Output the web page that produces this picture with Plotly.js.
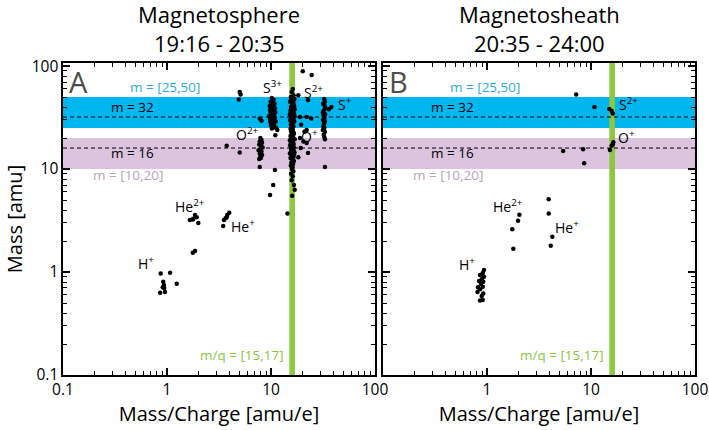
<!DOCTYPE html>
<html><head><meta charset="utf-8">
<script src="https://cdn.plot.ly/plotly-3.0.1.min.js"></script>
<style>html,body{margin:0;padding:0;background:#fff}#chart{width:709px;height:430px}</style>
</head><body><div id="chart"></div>
<script>
// ---------- Panel A: Magnetosphere 19:16 - 20:35 ----------
const aHplusMq   = [0.87,1.07,0.92,0.935,0.91,0.86,0.957,1.24,0.94];
const aHplusM    = [0.97,0.985,0.806,0.75,0.71,0.63,0.64,0.77,0.70];
const aHe2Mq     = [1.66,1.77,1.86,1.93,2.0,1.79,1.77,1.86];
const aHe2M      = [3.2,3.24,3.57,3.4,3.0,3.3,1.54,1.6];
const aHe1Mq     = [3.47,3.53,3.66,3.8,3.97,3.75];
const aHe1M      = [2.8,3.2,3.33,3.57,3.77,3.4];
const aO2Mq      = [7.9,8.1,7.8,8.2,7.7,8.0,8.3,7.9,7.6,8.1,7.8,8.2,7.9,8.0,7.7,3.75,5.0,7.8,5.0,5.1,4.9];
const aO2M       = [20,19.2,18.5,18,17.3,16.8,16.2,15.7,15.2,14.8,14.2,13.7,13.2,12.8,12.5,16.8,14.5,10.5,56,53,47.5];
const aS3Mq      = [10.2,10.6,9.9,10.4,10.8,10.1,9.7,10.5,10.9,10.2,9.8,10.6,10.3,11.0,9.9,10.4,10.7,10.1,9.6,10.5,10.9,10.2,9.8,10.6,10.3,11.1,9.9,10.4,10.7,10.0,10.5,10.2,7.8,8.1,11.2,11.5,11.0,9.8,10.5,10.9];
const aS3M       = [49,47,45,44,43,42,41,40,39,38.5,37.5,37,36,35.5,35,34,33.5,33,32.5,32,31.5,31,30.5,30,29.5,29,28.5,28,27,26.5,25.5,24.8,31,29.5,25,24,21.3,5.6,7.0,9.8];
const aColMq     = [16.2,15.8,16.5,15.5,16.8,16.0,15.3,16.4,15.9,16.7,15.6,16.1,16.9,15.4,16.3,15.7,16.6,15.2,16.0,16.8,15.5,16.2,15.9,16.5,15.3,16.7,15.8,16.1,15.5,16.4,15.9,16.2,15.6,16.6,16.0,15.4,16.3,15.8,16.9,15.2,16.1,15.7,16.5,15.3,16.0,16.7,15.5,16.2,15.9,16.4,15.6,16.8,15.2,16.1,15.8,16.5,15.4,16.0,16.6,15.7,16.3,15.5,16.1,15.9,16.4,15.6,16.2,15.8,16.6,16.0,16.9,14.4,16.3,15.7,16.0,15.4,16.5,15.6,16.3,15.9,16.1,15.5,16.6];
const aColM      = [60,56,52,50,48,46,45,44,42,41,40,39,38,37,36.5,35.5,35,34,33.5,33,32.5,32,31,30.5,30,29,28.5,27.5,27,26,25,24,23,22,21.5,21,20.5,20,19.5,19,18.5,18,17.5,17,16.5,16.2,16,15.8,15.5,15.2,15,14.6,14.2,14,13.6,13.2,12.8,12.5,12,11.6,11.2,10.8,10.4,10,9.5,9,8.5,7.8,7.0,5.5,6.3,3.7,43,38,29,24.5,22.5,47,40.5,34.5,19.8,17.8,13.9];
const aRightMq   = [20.2,24.6,19,22,24.4,22,19.5,21,18.3,22.7,19,22.7,22,19.3,18.3,20.5,32.5,33,31.8,32.8,33.5,32.2,31.5,33.2,32,32.7,31.6,33,32.3,31.9,32.6,31.5,32.9,32.1,32.5,38,36,33,33];
const aRightM    = [89,82,32,32,31,24,27,23,52,46.8,20,14.3,17.9,16,13,18.5,48,45,43,41,39,37,35.5,34,33,31.5,30,29,27.5,26,25,24,23,21.5,20.5,40,38,10.5,19.5];

// ---------- Panel B: Magnetosheath 20:35 - 24:00 ----------
const bHplusMq   = [0.935,0.91,0.857,0.935,0.89,0.84,0.92,0.875,0.82,0.91,0.857,0.81,0.92,0.89,0.91,0.857];
const bHplusM    = [1.045,0.98,0.935,0.90,0.85,0.82,0.805,0.765,0.71,0.72,0.68,0.64,0.62,0.585,0.535,0.53];
const bHeMq      = [2.05,1.99,1.75,1.79,3.92,3.92,4.25,4.1];
const bHeM       = [3.6,3.15,2.6,1.68,5.1,3.7,2.2,1.8];
const bHeavyMq   = [7.2,10.8,15,15.8,16.2,16.4,15.8,15.2,16.2,5.4,8.4,8.6];
const bHeavyM    = [53,40,38.3,36.6,34.7,18.2,16.8,15.3,17.4,15,15.6,11.4];

const FONT = 'Open Sans, Lato, sans-serif';
const dot = {color:'black', size:4.5};

function pts(x, y, xa, ya){
  return {type:'scatter', mode:'markers', x:x, y:y, xaxis:xa, yaxis:ya,
          marker:dot, hoverinfo:'skip', showlegend:false, cliponaxis:true};
}

const traces = [
  pts(aHplusMq,aHplusM,'x','y'), pts(aHe2Mq,aHe2M,'x','y'), pts(aHe1Mq,aHe1M,'x','y'),
  pts(aO2Mq,aO2M,'x','y'), pts(aS3Mq,aS3M,'x','y'), pts(aColMq,aColM,'x','y'),
  pts(aRightMq,aRightM,'x','y'),
  pts(bHplusMq,bHplusM,'x2','y2'), pts(bHeMq,bHeM,'x2','y2'), pts(bHeavyMq,bHeavyM,'x2','y2')
];

function bandShapes(xa, ya){
  const xd = xa + ' domain', yd = ya + ' domain';
  return [
    {type:'rect', layer:'below', xref:xd, yref:ya, x0:0, x1:1, y0:25, y1:50, fillcolor:'#00b6ef', line:{width:0}},
    {type:'rect', layer:'below', xref:xd, yref:ya, x0:0, x1:1, y0:10, y1:20, fillcolor:'#dcc4de', line:{width:0}},
    {type:'rect', layer:'below', xref:xa, yref:yd, x0:15, x1:17, y0:0, y1:1, fillcolor:'#8dc63f', line:{width:0}},
    {type:'line', layer:'below', xref:xd, yref:ya, x0:0, x1:1, y0:32, y1:32, line:{color:'black', width:1, dash:'4px,3px'}},
    {type:'line', layer:'below', xref:xd, yref:ya, x0:0, x1:1, y0:16, y1:16, line:{color:'black', width:1, dash:'4px,3px'}}
  ];
}

function txt(xa, ya, x, y, text, opts){
  return Object.assign({xref:xa, yref:ya, x:x, y:y, text:text, showarrow:false,
    font:{family:FONT, size:13.5, color:'black'}, xanchor:'center', yanchor:'middle'}, opts||{});
}

function panelNotes(xa, ya, letter, ions, mqx){
  const xd = xa + ' domain', yd = ya + ' domain';
  const notes = [
    txt(xd, yd, 0.012, 0.94, letter, {xanchor:'left', font:{family:FONT, size:29, color:'#4d4d4d'}}),
    txt(xa, ya, -0.02, 1.80, 'm = [25,50]', {font:{family:FONT, size:13.5, color:'#29aae1'}}),
    txt(xa, ya, -0.33, 1.605, 'm = 32'),
    txt(xa, ya, -0.33, 1.155, 'm = 16'),
    txt(xa, ya, -0.375, 0.942, 'm = [10,20]', {font:{family:FONT, size:13.5, color:'#b8a5bb'}}),
    txt(xa, ya, mqx, -0.806, 'm/q = [15,17]', {xanchor:'right', font:{family:FONT, size:13.5, color:'#8dc63f'}})
  ];
  ions.forEach(function(d){ notes.push(txt(xa, ya, d[0], d[1], d[2], {font:{family:FONT, size:14, color:'black'}})); });
  return notes;
}

const ionsA = [
  [1.019, 1.80, 'S<sup>3+</sup>'], [1.404, 1.75, 'S<sup>2+</sup>'], [1.712, 1.63, 'S<sup>+</sup>'],
  [0.769, 1.34, 'O<sup>2+</sup>'], [1.37, 1.32, 'O<sup>+</sup>'],
  [0.221, 0.64, 'He<sup>2+</sup>'], [0.731, 0.445, 'He<sup>+</sup>'], [-0.202, 0.085, 'H<sup>+</sup>']
];
const ionsB = [
  [1.356, 1.63, 'S<sup>2+</sup>'], [1.346, 1.31, 'O<sup>+</sup>'],
  [0.202, 0.64, 'He<sup>2+</sup>'], [0.769, 0.435, 'He<sup>+</sup>'], [-0.192, 0.075, 'H<sup>+</sup>']
];

const minorVals = [0.2,0.3,0.4,0.5,0.6,0.7,0.8,0.9,2,3,4,5,6,7,8,9,20,30,40,50,60,70,80,90];
function axis(domain, vals, texts, anchor, extra){
  return Object.assign({
    type:'log', domain:domain, anchor:anchor, showgrid:false, zeroline:false,
    showline:true, linecolor:'black', linewidth:1.6, mirror:'allticks',
    ticks:'inside', ticklen:7, tickwidth:1.3, tickcolor:'black',
    tickmode:'array', tickvals:vals, ticktext:texts,
    tickfont:{family:FONT, size:15.5, color:'black'},
    minor:{tickmode:'array', tickvals:minorVals, ticks:'inside', ticklen:4, tickwidth:1, tickcolor:'black', showgrid:false},
    automargin:false
  }, extra||{});
}

const titleFont = {family:FONT, size:20, color:'black'};
const yDom = [(430-375)/430, (430-63)/430];
const layout = {
  width:709, height:430, margin:{l:0, r:0, t:0, b:0},
  paper_bgcolor:'white', plot_bgcolor:'white', showlegend:false,
  xaxis: axis([63/709, 375/709], [0.1,1,10,100], ['0.1','1','10','100'], 'y', {range:[-1,2], title:{text:'Mass/Charge [amu/e]', standoff:3, font:titleFont}}),
  yaxis: axis(yDom, [0.1,1,10,100], ['0.1','1','10','100'], 'x', {range:[-1,2.03], title:{text:'Mass [amu]', standoff:4, font:titleFont}}),
  xaxis2: axis([383/709, 695/709], [0.1,1,10,100], ['','1','10','100'], 'y2', {range:[-1,2], title:{text:'Mass/Charge [amu/e]', standoff:3, font:titleFont}}),
  yaxis2: axis(yDom, [0.1,1,10,100], ['','','',''], 'x2', {range:[-1,2.03], showticklabels:false, title:{text:''}}),
  shapes: bandShapes('x','y').concat(bandShapes('x2','y2')),
  annotations: panelNotes('x','y','A', ionsA, 1.14).concat(panelNotes('x2','y2','B', ionsB, 1.14)).concat([
    {xref:'x domain', yref:'paper', x:0.5, y:(430-14)/430, text:'Magnetosphere', showarrow:false, font:{family:FONT, size:22, color:'black'}, yanchor:'middle'},
    {xref:'x domain', yref:'paper', x:0.5, y:(430-43)/430, text:'19:16 - 20:35', showarrow:false, font:{family:FONT, size:22, color:'black'}, yanchor:'middle'},
    {xref:'x2 domain', yref:'paper', x:0.5, y:(430-14)/430, text:'Magnetosheath', showarrow:false, font:{family:FONT, size:22, color:'black'}, yanchor:'middle'},
    {xref:'x2 domain', yref:'paper', x:0.5, y:(430-43)/430, text:'20:35 - 24:00', showarrow:false, font:{family:FONT, size:22, color:'black'}, yanchor:'middle'}
  ])
};

Plotly.newPlot('chart', traces, layout, {displayModeBar:false, staticPlot:true});
</script>
</body></html>
